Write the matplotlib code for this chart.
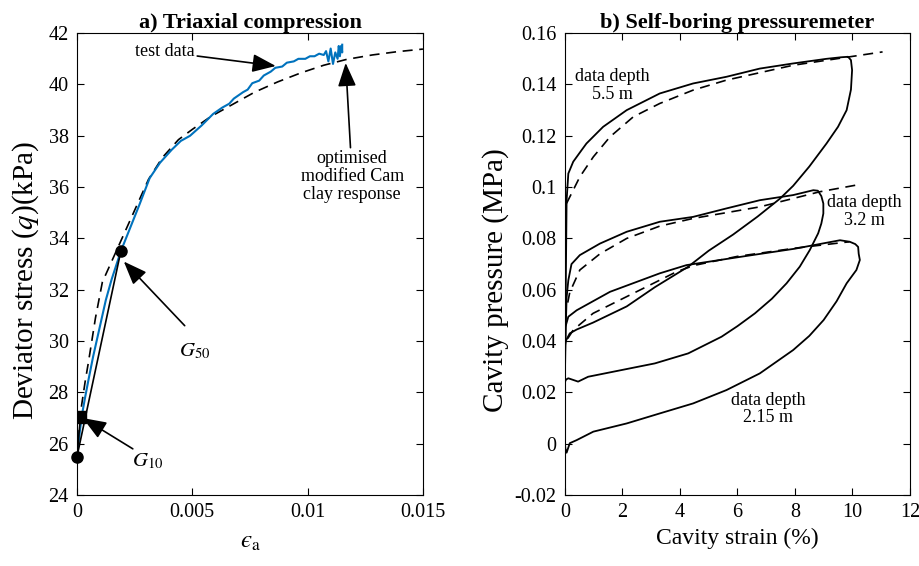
import matplotlib
matplotlib.use("Agg")
import matplotlib.pyplot as plt

plt.rcParams['font.family'] = ['Liberation Serif', 'DejaVu Serif']
plt.rcParams['mathtext.fontset'] = 'stix'

# ---- a) triaxial compression ----
test_strain = [0.0, 0.0001, 0.0002, 0.00035, 0.0005, 0.0007, 0.001, 0.00125, 0.0015,
               0.0019, 0.0023, 0.0027, 0.00315, 0.0036, 0.0041, 0.0045, 0.0049, 0.0054,
               0.0059, 0.0063, 0.0066, 0.0068, 0.0072, 0.0074, 0.0076, 0.0079, 0.0081,
               0.0084, 0.0086, 0.0089, 0.0091, 0.0094, 0.0096, 0.0099, 0.0101, 0.0103,
               0.0105, 0.0107, 0.0108, 0.0109, 0.0110, 0.0111, 0.0112, 0.0113, 0.01135,
               0.0114, 0.01145, 0.0115, 0.0115]
test_q = [25.5, 26.3, 27.05, 27.8, 28.5, 29.4, 30.6, 31.6, 32.4,
          33.5, 34.4, 35.3, 36.35, 36.95, 37.45, 37.8, 38.0, 38.4,
          38.85, 39.1, 39.25, 39.45, 39.7, 39.8, 40.05, 40.15, 40.35,
          40.5, 40.65, 40.7, 40.85, 40.9, 41.0, 41.0, 41.1, 41.1,
          41.2, 41.15, 41.3, 40.9, 41.4, 40.8, 41.25, 41.0, 41.5,
          41.1, 41.5, 41.25, 41.55]
model_strain = [0.0, 0.0001, 0.0002, 0.00035, 0.0005, 0.0008, 0.0011, 0.0016, 0.0021,
                0.0026, 0.0031, 0.0037, 0.0044, 0.005, 0.0058, 0.0067, 0.0077, 0.0087,
                0.0097, 0.0107, 0.0117, 0.0128, 0.0139, 0.015]
model_q = [25.5, 26.6, 27.5, 28.4, 29.2, 30.9, 32.3, 33.3, 34.3,
           35.3, 36.3, 37.15, 37.85, 38.25, 38.75, 39.2, 39.7, 40.1,
           40.45, 40.75, 40.98, 41.15, 41.28, 41.38]
origin = (0.0, 25.5)
g10_point = (0.00015, 27.05)
g50_point = (0.0019, 33.5)

# ---- b) self-boring pressuremeter: loops (strain %, pressure MPa) ----
d55_strain = [0.0, 0.03, 0.06, 0.12, 0.29, 0.58, 0.75, 1.33, 2.15, 3.3, 4.46, 5.62, 6.78,
              7.94, 9.1, 9.6, 9.85, 9.95, 9.99, 9.95, 9.8, 9.5, 9.1, 8.5, 7.94, 7.48,
              6.7, 5.85, 5.0, 4.29, 3.13, 2.15, 0.98, 0.41, 0.17, 0.03, 0.0]
d55_p = [0.040, 0.060, 0.0949, 0.1053, 0.1099, 0.1144, 0.117, 0.1235, 0.130, 0.1365,
         0.1404, 0.143, 0.1462, 0.1482, 0.150, 0.1506, 0.1508, 0.1495, 0.1456, 0.138,
         0.130, 0.1235, 0.117, 0.108, 0.1005, 0.0955, 0.0885, 0.0815, 0.0752, 0.069,
         0.0610, 0.0535, 0.0472, 0.0445, 0.043, 0.040, 0.038]
d32_strain = [0.0, 0.03, 0.06, 0.12, 0.23, 0.52, 1.22, 2.15, 3.3, 4.46, 5.62, 6.78, 7.94,
              8.64, 8.8, 8.92, 8.99, 8.99, 8.92, 8.81, 8.52, 8.17, 7.71, 7.2, 6.61, 6.0,
              5.45, 4.29, 3.13, 1.97, 0.81, 0.46, 0.12, 0.04, 0.0]
d32_p = [0.026, 0.045, 0.057, 0.0637, 0.070, 0.0735, 0.078, 0.0826, 0.0865, 0.0884, 0.0917,
         0.0949, 0.0969, 0.0988, 0.0986, 0.0965, 0.0936, 0.0897, 0.0858, 0.082, 0.0755,
         0.069, 0.0625, 0.0565, 0.0508, 0.0458, 0.0417, 0.0352, 0.0313, 0.0287, 0.0261,
         0.0242, 0.0255, 0.025, 0.024]
d215_strain = [0.0, 0.0, 0.02, 0.12, 0.41, 1.57, 3.3, 4.23, 6.09, 8.0, 9.57, 9.91, 10.1,
               10.2, 10.22, 10.26, 10.14, 9.8, 9.45, 9.0, 8.5, 7.94, 6.78, 5.62, 4.46, 3.3,
               2.15, 0.99, 0.41, 0.17, 0.06, 0.02, 0.0]
d215_p = [-0.003, 0.030, 0.0456, 0.0495, 0.052, 0.0592, 0.0664, 0.0696, 0.0728, 0.0760,
          0.0793, 0.0787, 0.0778, 0.0767, 0.0740, 0.0716, 0.0677, 0.0625, 0.0555, 0.0482,
          0.0420, 0.0365, 0.0274, 0.0209, 0.0157, 0.0118, 0.0079, 0.0047, 0.0014, 0.0002,
          -0.0035, -0.002, 0.0]
fit55_strain = [0.06, 0.52, 0.99, 1.57, 2.38, 3.3, 4.46, 5.62, 7.94, 11.05]
fit55_p = [0.0937, 0.104, 0.1118, 0.1196, 0.1274, 0.1326, 0.1378, 0.1417, 0.1475, 0.1527]
fit32_strain = [0.1, 0.17, 0.52, 1.22, 2.15, 3.3, 4.46, 6.78, 8.87, 10.14]
fit32_p = [0.055, 0.059, 0.0677, 0.0740, 0.0800, 0.0848, 0.0878, 0.0923, 0.0982, 0.1008]
fit215_strain = [0.1, 0.29, 0.98, 2.72, 3.88, 4.5, 6.0, 8.0, 9.9]
fit215_p = [0.041, 0.0443, 0.0508, 0.0605, 0.0670, 0.0695, 0.0730, 0.0762, 0.0787]

fig = plt.figure(figsize=(9.2, 5.66), dpi=100)
ax1 = fig.add_axes([0.0837, 0.1254, 0.376, 0.816])
ax2 = fig.add_axes([0.614, 0.1254, 0.375, 0.816])

arrow = dict(arrowstyle='-|>,head_length=0.9,head_width=0.35', color='k', lw=1.2,
             mutation_scale=16, shrinkA=0, shrinkB=0)

# left panel
ax1.plot(model_strain, model_q, 'k--', lw=1.2, dashes=(6, 4))
ax1.plot(test_strain, test_q, color='#0072BD', lw=1.5)
for pt in (g10_point, g50_point):
    ax1.plot([origin[0], pt[0]], [origin[1], pt[1]], 'k-', lw=1.2)
ax1.plot(*origin, 'ko', ms=8, clip_on=False)
ax1.plot(*g10_point, 'ks', ms=8)
ax1.plot(*g50_point, 'ko', ms=8)

ax1.annotate('test data', xy=(0.00862, 40.72), xytext=(0.0038, 41.27),
             ha='center', va='center', fontsize=13, arrowprops=arrow)
ax1.annotate('optimised\nmodified Cam\nclay response', xy=(0.01165, 40.84),
             xytext=(0.01193, 36.41), ha='center', va='center', fontsize=13,
             linespacing=1.05, arrowprops=arrow)
ax1.annotate('', xy=(0.00203, 33.1), xytext=(0.00467, 30.6), arrowprops=arrow)
ax1.text(0.0051, 29.6, '$G_{50}$', ha='center', va='center', fontsize=15)
ax1.annotate('', xy=(0.00025, 27.0), xytext=(0.00242, 25.8), arrowprops=arrow)
ax1.text(0.00307, 25.3, '$G_{10}$', ha='center', va='center', fontsize=15)

ax1.set_xlim(0, 0.015)
ax1.set_ylim(24, 42)
ax1.set_xticks([0, 0.005, 0.01, 0.015])
ax1.set_xticklabels(['0', '0.005', '0.01', '0.015'])
ax1.set_yticks(range(24, 43, 2))
ax1.set_xlabel('$\u03f5_{\\mathrm{a}}$', fontsize=18, labelpad=6)
ax1.set_ylabel('Deviator stress ($q$)(kPa)', fontsize=21)
ax1.yaxis.set_label_coords(-0.105, 0.465)
ax1.set_title('a) Triaxial compression', fontsize=16, fontweight='bold', pad=4)

# right panel
for s, p in ((d55_strain, d55_p), (d32_strain, d32_p), (d215_strain, d215_p)):
    ax2.plot(s, p, 'k-', lw=1.3)
for s, p in ((fit55_strain, fit55_p), (fit32_strain, fit32_p), (fit215_strain, fit215_p)):
    ax2.plot(s, p, 'k--', lw=1.2, dashes=(6, 4))

ax2.text(1.64, 0.1397, 'data depth\n5.5 m', ha='center', va='center', fontsize=13,
         linespacing=1.05)
ax2.text(10.43, 0.0904, 'data depth\n3.2 m', ha='center', va='center', fontsize=13,
         linespacing=1.05)
ax2.text(7.07, 0.0135, 'data depth\n2.15 m', ha='center', va='center', fontsize=13,
         linespacing=1.05)

ax2.set_xlim(0, 12)
ax2.set_ylim(-0.02, 0.16)
ax2.set_xticks(range(0, 13, 2))
yt = [-0.02, 0, 0.02, 0.04, 0.06, 0.08, 0.1, 0.12, 0.14, 0.16]
ax2.set_yticks(yt)
ax2.set_yticklabels(['-0.02', '0', '0.02', '0.04', '0.06', '0.08', '0.1', '0.12',
                     '0.14', '0.16'])
ax2.set_xlabel('Cavity strain (%)', fontsize=17, labelpad=4)
ax2.set_ylabel('Cavity pressure (MPa)', fontsize=21)
ax2.yaxis.set_label_coords(-0.163, 0.465)
ax2.set_title('b) Self-boring pressuremeter', fontsize=16, fontweight='bold', pad=4)

for ax in (ax1, ax2):
    ax.tick_params(direction='in', top=True, right=True, labelsize=14.5, length=5, pad=6)
    for sp in ax.spines.values():
        sp.set_linewidth(0.8)

fig.savefig('out.png', dpi=100)
